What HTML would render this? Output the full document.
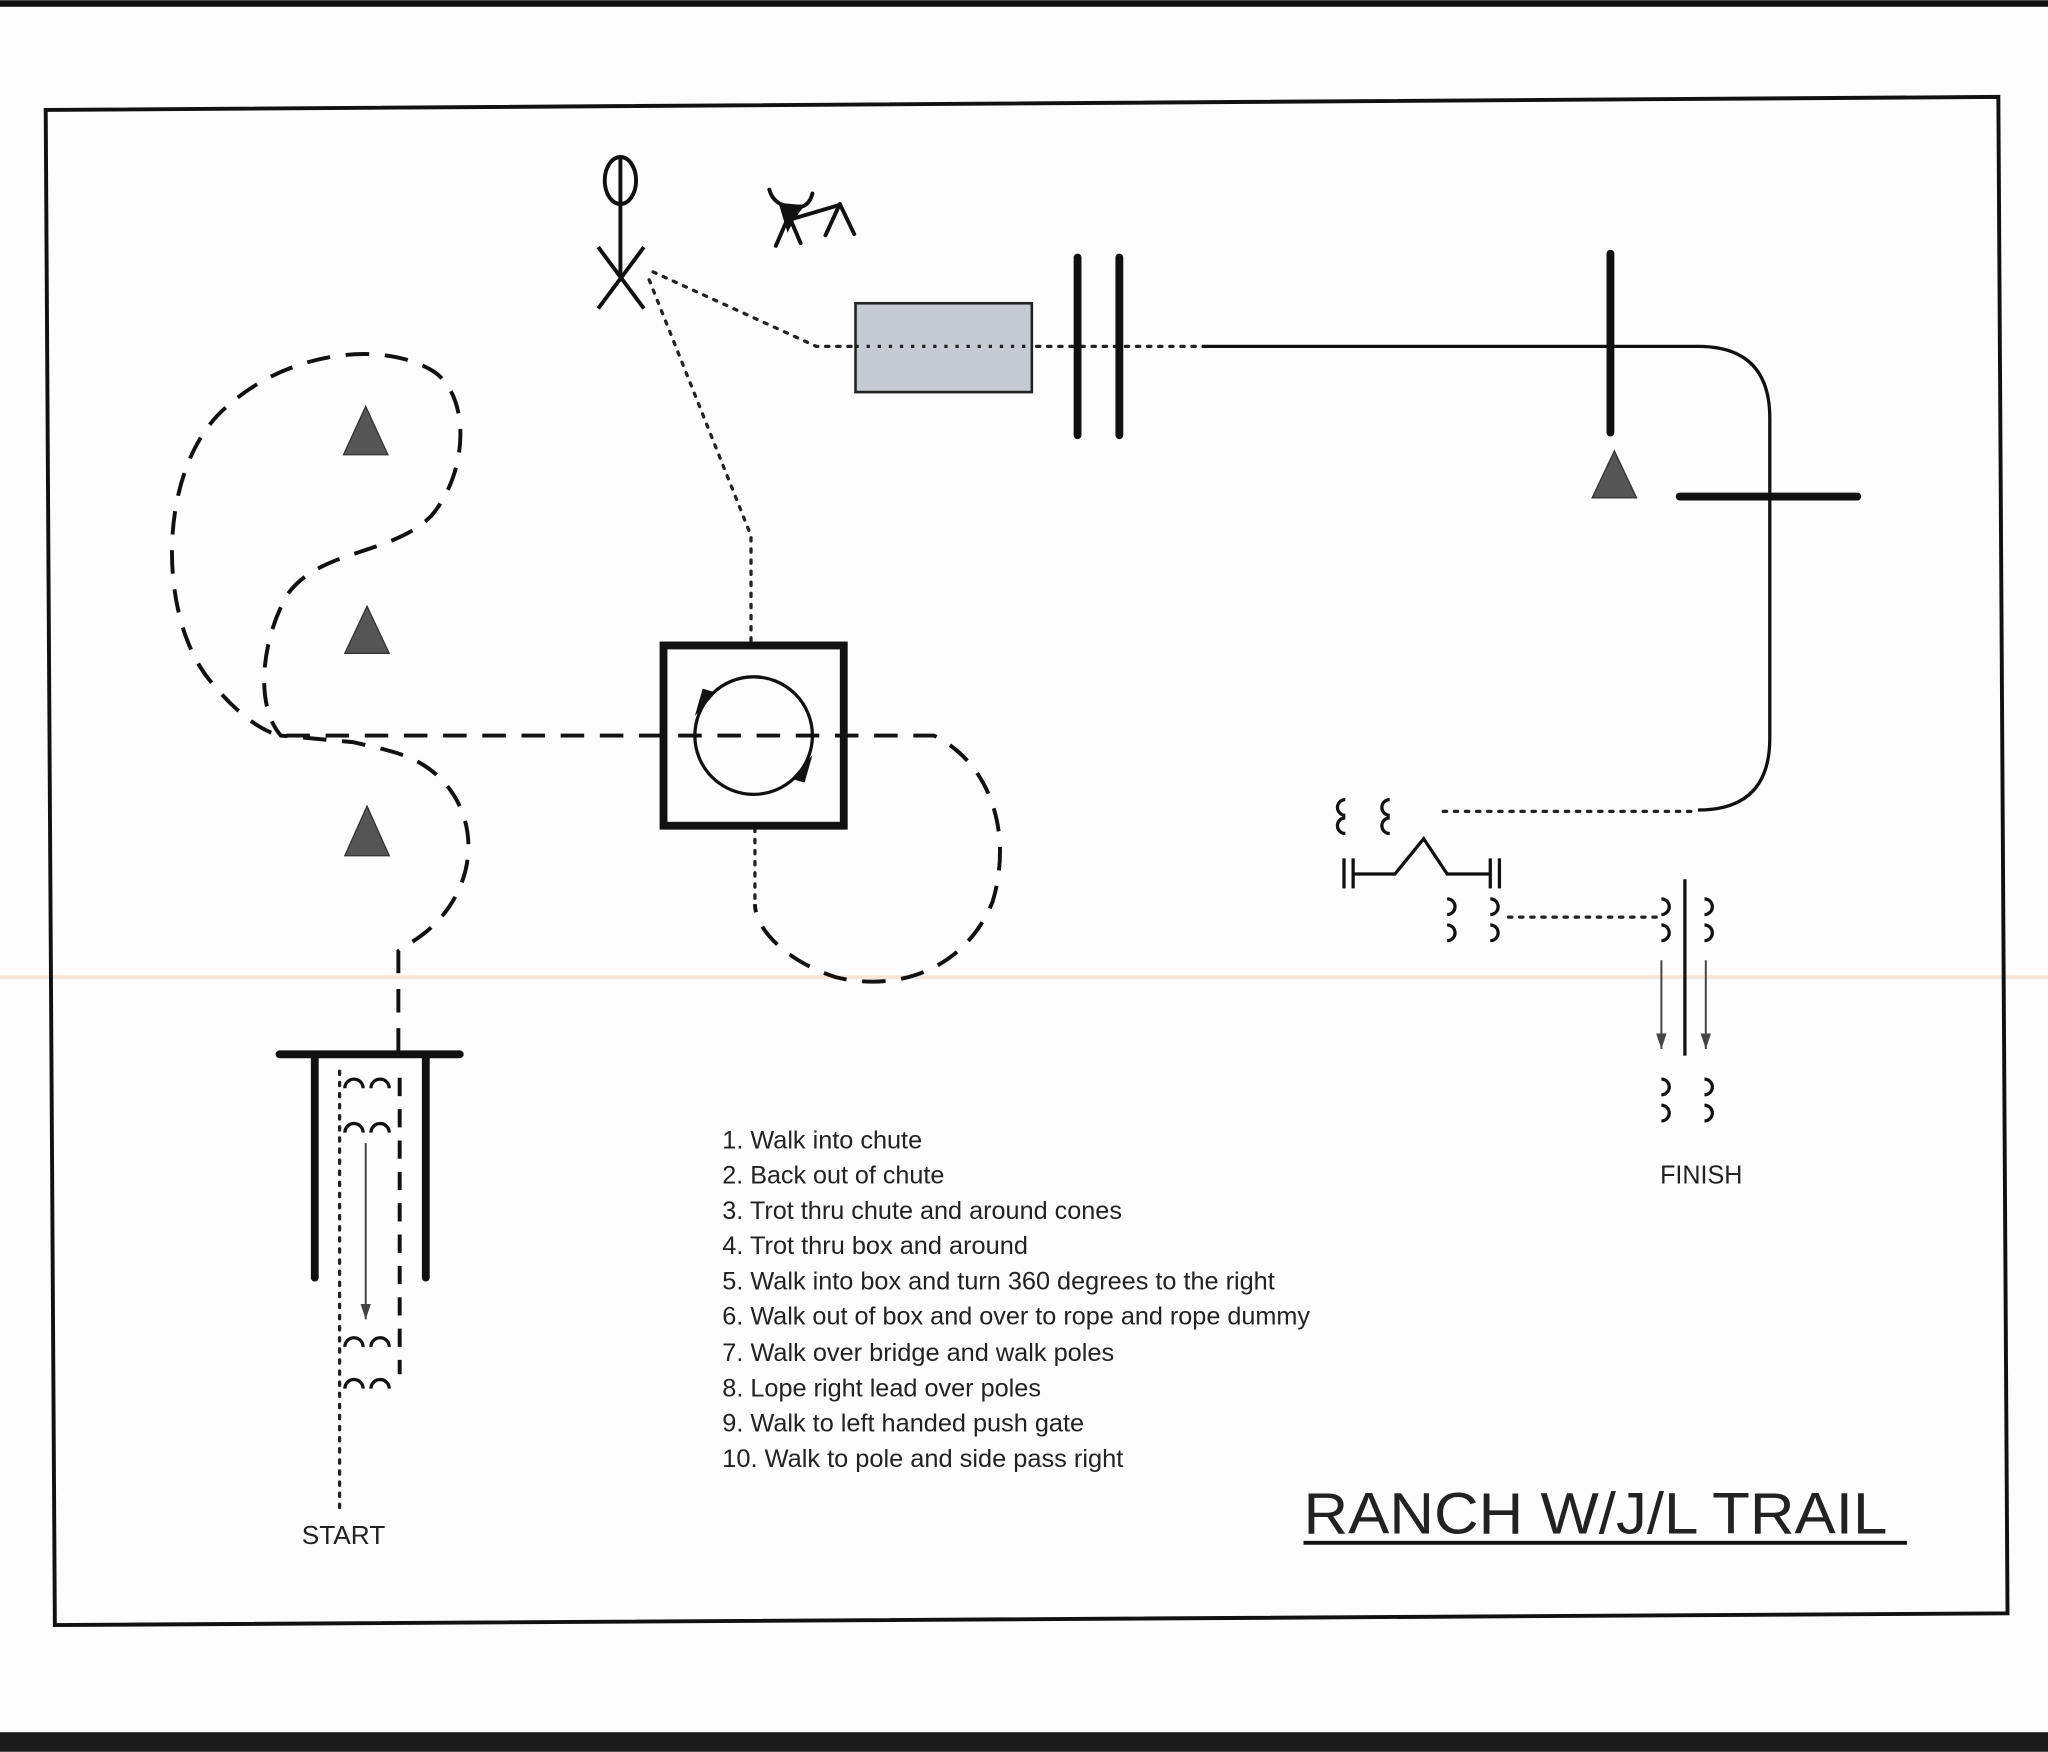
<!DOCTYPE html>
<html><head><meta charset="utf-8"><style>
html,body{margin:0;padding:0;background:#fff;}
svg{display:block;}
text{font-family:"Liberation Sans",sans-serif;fill:#222;}
</style></head><body>
<svg width="2048" height="1752" viewBox="0 0 1568 1341" xmlns="http://www.w3.org/2000/svg">
<rect x="0" y="0" width="1568" height="1341" fill="#fdfdfd"/>
<rect x="0" y="0" width="1568" height="5" fill="#111"/>
<rect x="0" y="1326" width="1568" height="15" fill="#1a1a1a"/>
<line x1="0" y1="748" x2="1568" y2="748" stroke="#f5e6dc" stroke-width="3"/>
<polygon points="35,84 1530,74 1537,1235 42,1244" fill="none" stroke="#111" stroke-width="3"/>

<defs>
<marker id="ah" markerWidth="12" markerHeight="10" refX="12" refY="4" orient="auto" markerUnits="userSpaceOnUse">
<path d="M0,0 L12,4 L0,8 Z" fill="#444"/></marker>
</defs>

<!-- person -->
<g stroke="#111" stroke-width="3" fill="none">
<ellipse cx="475" cy="138" rx="12" ry="18"/>
<line x1="475" y1="120" x2="475" y2="212"/>
<line x1="458" y1="189" x2="493" y2="236"/>
<line x1="493" y1="189" x2="458" y2="236"/>
</g>
<!-- cow -->
<g stroke="#111" stroke-width="3" fill="none" stroke-linecap="round">
<path d="M589,145 Q592,156 604,158 L614,158 Q620,156 622,148"/>
<line x1="608" y1="167" x2="642" y2="157"/>
<line x1="604" y1="165" x2="594" y2="188"/>
<line x1="604" y1="165" x2="613" y2="186"/>
<line x1="643" y1="156" x2="632" y2="180"/>
<line x1="643" y1="156" x2="654" y2="179"/>
</g>
<path d="M596,155 L616,157 L608,168 L603,178 Z" fill="#111"/>

<!-- dotted lines -->
<g stroke="#222" stroke-width="2.5" fill="none" stroke-dasharray="2.5 6" stroke-linecap="round">
<path d="M500,208 L625,265 L920,265"/>
<path d="M497,214 L575,410 L575,492"/>
<path d="M578,634 L578,692"/>
<path d="M1105,621 L1295,621"/>
<path d="M1155,702 L1270,702"/>
<path d="M260,820 L260,1160"/>
</g>

<!-- bridge -->
<rect x="655" y="232" width="135" height="68" fill="#c5cad3" stroke="#222" stroke-width="2"/>
<line x1="655" y1="265" x2="790" y2="265" stroke="#222" stroke-width="2.5" stroke-dasharray="2.5 6"/>
<g stroke="#111" stroke-width="6" stroke-linecap="round">
<line x1="825" y1="197" x2="825" y2="333"/>
<line x1="857" y1="197" x2="857" y2="333"/>
<line x1="1233" y1="194" x2="1233" y2="331"/>
<line x1="1286" y1="380" x2="1422" y2="380"/>
</g>

<path d="M920,265 L1300,265 Q1355,265 1355,320 L1355,565 Q1355,620 1300,620" stroke="#111" stroke-width="2.5" fill="none"/>

<!-- cones -->
<g fill="#555" stroke="#333" stroke-width="1">
<path d="M280,311 L263,348 L297,348 Z"/>
<path d="M281,464 L264,500 L298,500 Z"/>
<path d="M281,617 L264,655 L298,655 Z"/>
<path d="M1236,345 L1219,381 L1253,381 Z"/>
</g>

<!-- dashed path -->
<g stroke="#111" stroke-width="3" fill="none" stroke-dasharray="18 12">
<path d="M305,805 L305,728 L320,718 C360,690 370,640 345,605 C325,578 300,575 270,568 L215,563 C195,540 200,490 220,455 C245,420 300,425 330,395 C360,360 360,300 330,283 C290,260 220,270 175,310 C120,355 120,470 160,520 C180,545 200,560 215,563 L715,563 C760,585 775,640 760,690 C740,740 690,760 640,748 C600,735 578,710 578,692"/>
</g>

<!-- box -->
<rect x="508" y="494" width="138" height="138" fill="none" stroke="#111" stroke-width="6"/>
<circle cx="577" cy="563" r="45" fill="none" stroke="#111" stroke-width="2.5"/>
<path d="M532,548 L548,530 L538,527 Z" fill="#111"/>
<path d="M622,578 L606,596 L616,599 Z" fill="#111"/>

<!-- chute -->
<g stroke="#111" stroke-width="6" stroke-linecap="round">
<line x1="214" y1="807" x2="352" y2="807"/>
<line x1="241" y1="809" x2="241" y2="978"/>
<line x1="326" y1="809" x2="326" y2="978"/>
</g>
<line x1="306" y1="825" x2="306" y2="1052" stroke="#111" stroke-width="3" stroke-dasharray="14 10"/>
<line x1="280" y1="875" x2="280" y2="1010" stroke="#444" stroke-width="1.5" marker-end="url(#ah)"/>
<g stroke="#111" stroke-width="2.5" fill="none">
<path d="M264,833 a7,7 0 0 1 14,0 M284,833 a7,7 0 0 1 14,0"/>
<path d="M264,867 a7,7 0 0 1 14,0 M284,867 a7,7 0 0 1 14,0"/>
<path d="M264,1031 a7,7 0 0 1 14,0 M284,1031 a7,7 0 0 1 14,0"/>
<path d="M264,1063 a7,7 0 0 1 14,0 M284,1063 a7,7 0 0 1 14,0"/>
</g>

<!-- gate area -->
<g stroke="#111" stroke-width="2.5" fill="none">
<path d="M1030,612 a6,6 0 0 0 0,12 M1030,626 a6,6 0 0 0 0,12"/>
<path d="M1064,612 a6,6 0 0 0 0,12 M1064,626 a6,6 0 0 0 0,12"/>
<line x1="1029" y1="657" x2="1029" y2="680"/>
<line x1="1036" y1="657" x2="1036" y2="680"/>
<path d="M1036,669 L1068,669 L1090,642 L1108,669 L1141,669"/>
<line x1="1141" y1="657" x2="1141" y2="680"/>
<line x1="1148" y1="657" x2="1148" y2="680"/>
<path d="M1108,688 a6,6 0 0 1 0,12 M1108,708 a6,6 0 0 1 0,12"/>
<path d="M1141,688 a6,6 0 0 1 0,12 M1141,708 a6,6 0 0 1 0,12"/>
<path d="M1272,688 a6,6 0 0 1 0,12 M1272,708 a6,6 0 0 1 0,12"/>
<path d="M1305,688 a6,6 0 0 1 0,12 M1305,708 a6,6 0 0 1 0,12"/>
<path d="M1272,826 a6,6 0 0 1 0,12 M1272,846 a6,6 0 0 1 0,12"/>
<path d="M1305,826 a6,6 0 0 1 0,12 M1305,846 a6,6 0 0 1 0,12"/>
<line x1="1290" y1="673" x2="1290" y2="808"/>
</g>
<line x1="1272" y1="735" x2="1272" y2="803" stroke="#444" stroke-width="1.5" marker-end="url(#ah)"/>
<line x1="1306" y1="735" x2="1306" y2="803" stroke="#444" stroke-width="1.5" marker-end="url(#ah)"/>

<!-- text -->
<g font-size="19">
<text x="553" y="879" textLength="153" lengthAdjust="spacingAndGlyphs">1. Walk into chute</text>
<text x="553" y="906" textLength="170" lengthAdjust="spacingAndGlyphs">2. Back out of chute</text>
<text x="553" y="933" textLength="306" lengthAdjust="spacingAndGlyphs">3. Trot thru chute and around cones</text>
<text x="553" y="960" textLength="234" lengthAdjust="spacingAndGlyphs">4. Trot thru box and around</text>
<text x="553" y="987" textLength="423" lengthAdjust="spacingAndGlyphs">5. Walk into box and turn 360 degrees to the right</text>
<text x="553" y="1014" textLength="450" lengthAdjust="spacingAndGlyphs">6. Walk out of box and over to rope and rope dummy</text>
<text x="553" y="1042" textLength="300" lengthAdjust="spacingAndGlyphs">7. Walk over bridge and walk poles</text>
<text x="553" y="1069" textLength="244" lengthAdjust="spacingAndGlyphs">8. Lope right lead over poles</text>
<text x="553" y="1096" textLength="277" lengthAdjust="spacingAndGlyphs">9. Walk to left handed push gate</text>
<text x="553" y="1123" textLength="307" lengthAdjust="spacingAndGlyphs">10. Walk to pole and side pass right</text>
</g>
<text x="231" y="1182" font-size="20" textLength="64" lengthAdjust="spacingAndGlyphs">START</text>
<text x="1271" y="906" font-size="20" textLength="63" lengthAdjust="spacingAndGlyphs">FINISH</text>
<text x="998" y="1174" font-size="45" textLength="447" lengthAdjust="spacingAndGlyphs" fill="#111">RANCH W/J/L TRAIL</text>
<line x1="998" y1="1181" x2="1460" y2="1181" stroke="#111" stroke-width="3"/>
</svg>
</body></html>
